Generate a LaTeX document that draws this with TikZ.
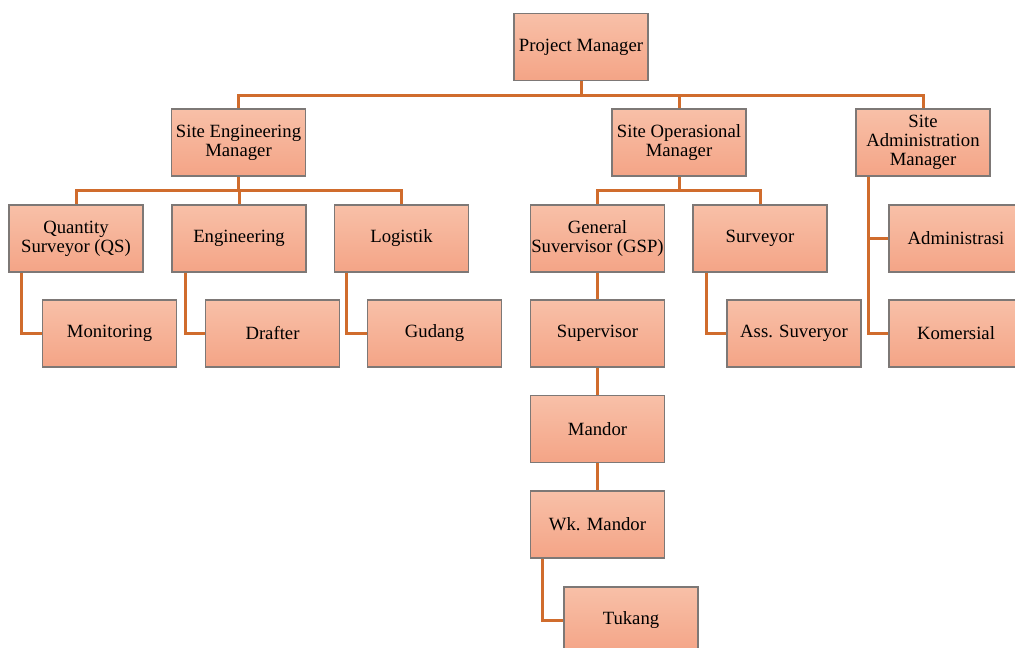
\documentclass[tikz,border=0pt]{standalone}
\usepackage{fontspec}
\setmainfont{Liberation Serif}
\definecolor{lineor}{RGB}{208,108,45}
\definecolor{boxtop}{RGB}{248,192,168}
\definecolor{boxbot}{RGB}{244,164,134}
\definecolor{boxline}{RGB}{125,120,118}
\begin{document}
\begin{tikzpicture}[x=1pt,y=-1pt,
  box/.style={draw=boxline,line width=1.1pt,top color=boxtop,bottom color=boxbot,
    minimum width=134pt,minimum height=67pt,inner sep=0pt,align=center,
    font=\fontsize{18.7}{19}\selectfont},
  conn/.style={draw=lineor,line width=3pt}]
\useasboundingbox (0,0) rectangle (1015,648);
\clip (0,0) rectangle (1015,648);
% nodes
\node[box] (pm)  at (581,47)    {Project Manager};
\node[box] (sem) at (238.5,142.5) {Site Engineering\\Manager};
\node[box] (som) at (679,142.5) {Site Operasional\\Manager};
\node[box] (sam) at (923,142.5) {Site\\Administration\\Manager};
\node[box] (qs)  at (76,238.5)  {Quantity\\Surveyor (QS)};
\node[box] (eng) at (239,238.5) {Engineering};
\node[box] (log) at (401.5,238.5) {Logistik};
\node[box] (gsp) at (597.5,238.5) {General\\Suvervisor (GSP)};
\node[box] (sur) at (760,238.5) {Surveyor};
\node[box] (adm) at (956,238.5) {Administrasi};
\node[box] (mon) at (109.5,333.5) {Monitoring};
\node[box] (dra) at (272.5,333.5) {Drafter};
\node[box] (gud) at (434.5,333.5) {Gudang};
\node[box] (spv) at (597.5,333.5) {Supervisor};
\node[box] (ass) at (794,333.5) {Ass. Suveryor};
\node[box] (kom) at (956,333.5) {Komersial};
\node[box] (man) at (597.5,429) {Mandor};
\node[box] (wkm) at (597.5,524.5) {Wk. Mandor};
\node[box] (tuk) at (631,620.5) {Tukang};
% connectors: level 1
\draw[conn] (pm.south) -- ++(0,14) coordinate (b1);
\draw[conn] (b1) -| (sem.north);
\draw[conn] (b1) -| (som.north);
\draw[conn] (b1) -| (sam.north);
% Site Engineering
\draw[conn] (sem.south) -- ++(0,14) coordinate (b2);
\draw[conn] (b2) -| (qs.north);
\draw[conn] (b2) -| (eng.north);
\draw[conn] (b2) -| (log.north);
% Site Operasional
\draw[conn] (som.south) -- ++(0,14) coordinate (b3);
\draw[conn] (b3) -| (gsp.north);
\draw[conn] (b3) -| (sur.north);
% Site Administration
\draw[conn] ([xshift=13pt]sam.south west) |- (adm.west);
\draw[conn] ([xshift=13pt]sam.south west) |- (kom.west);
% side children
\draw[conn] ([xshift=13pt]qs.south west) |- (mon.west);
\draw[conn] ([xshift=14pt]eng.south west) |- (dra.west);
\draw[conn] ([xshift=13pt]log.south west) |- (gud.west);
\draw[conn] ([xshift=14pt]sur.south west) |- (ass.west);
\draw[conn] ([xshift=13pt]wkm.south west) |- (tuk.west);
% vertical chain
\draw[conn] (gsp.south) -- (spv.north);
\draw[conn] (spv.south) -- (man.north);
\draw[conn] (man.south) -- (wkm.north);
\end{tikzpicture}
\end{document}
